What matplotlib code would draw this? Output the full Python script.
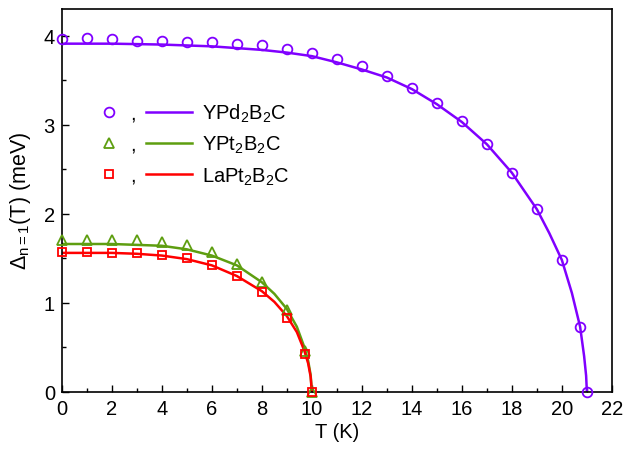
import matplotlib
matplotlib.use("Agg")
from matplotlib import pyplot as plt
from matplotlib.lines import Line2D

plt.rcParams["font.family"] = ["Liberation Sans", "DejaVu Sans"]
plt.rcParams["mathtext.fontset"] = "custom"
plt.rcParams["mathtext.rm"] = "Liberation Sans"
plt.rcParams["mathtext.it"] = "Liberation Sans:italic"
plt.rcParams["mathtext.bf"] = "Liberation Sans:bold"

# measured gap values (symbols)
t_pd = [0, 1, 2, 3, 4, 5, 6, 7, 8, 9, 10, 11, 12, 13, 14, 15, 16, 17, 18, 19, 20, 20.73, 21]
d_pd = [3.96, 3.97, 3.96, 3.94, 3.94, 3.93, 3.93, 3.91, 3.89, 3.85, 3.81, 3.74, 3.66,
        3.55, 3.41, 3.24, 3.04, 2.78, 2.46, 2.05, 1.48, 0.73, 0.0]

t_pt = [0, 1, 2, 3, 4, 5, 6, 7, 8, 9, 9.73, 10]
d_ypt = [1.70, 1.71, 1.71, 1.70, 1.68, 1.65, 1.57, 1.43, 1.23, 0.92, 0.46, 0.0]
d_lapt = [1.57, 1.57, 1.56, 1.56, 1.54, 1.50, 1.42, 1.30, 1.12, 0.83, 0.42, 0.0]

# fit curves (lines)
tf_pd = [0, 2, 4, 6, 8, 9, 10, 11, 12, 13, 14, 15, 16, 17, 18, 19, 19.5, 20,
         20.4, 20.73, 20.89, 20.97, 21]
df_pd = [3.91, 3.91, 3.90, 3.88, 3.84, 3.81, 3.77, 3.70, 3.62, 3.53, 3.40, 3.23,
         3.03, 2.78, 2.46, 2.05, 1.78, 1.48, 1.11, 0.73, 0.40, 0.18, 0.0]

tf_pt = [0, 1, 2, 3, 4, 5, 6, 7, 8, 8.5, 9, 9.4, 9.7, 9.85, 9.95, 10]
df_ypt = [1.66, 1.66, 1.66, 1.65, 1.64, 1.60, 1.53, 1.42, 1.23, 1.10, 0.93, 0.73,
          0.50, 0.35, 0.19, 0.0]
df_lapt = [1.56, 1.56, 1.56, 1.55, 1.53, 1.49, 1.42, 1.30, 1.13, 1.01, 0.85, 0.67,
           0.46, 0.32, 0.17, 0.0]

labels = ["YPd$_2$B$_2$C", "YPt$_2$B$_2$C", "LaPt$_2$B$_2$C"]
colors = ["#8000ff", "#5e9e10", "#ff0000"]
markers = ["o", "^", "s"]
msizes = [7, 7.5, 5.8]
fs = 14.5

fig = plt.figure(figsize=(6.25, 4.52), dpi=100)
ax = fig.add_axes([0.099, 0.131, 0.88, 0.847])

ax.plot(tf_pd, df_pd, color=colors[0], lw=1.8)
ax.plot(tf_pt, df_ypt, color=colors[1], lw=1.8)
ax.plot(tf_pt, df_lapt, color=colors[2], lw=1.8)

for t, d, m, c, s in zip([t_pd, t_pt, t_pt], [d_pd, d_ypt, d_lapt], markers, colors, msizes):
    ax.plot(t, d, ls="none", marker=m, color=c, mfc="none", ms=s, mew=1.3,
            clip_on=False, zorder=5)

ax.set_xlim(0, 22)
ax.set_ylim(0, 4.3)
ax.set_xticks(range(0, 23, 2))
ax.set_xticks(range(1, 22, 2), minor=True)
ax.set_yticks([0, 1, 2, 3, 4])
ax.set_yticks([0.5, 1.5, 2.5, 3.5], minor=True)
ax.tick_params(which="both", direction="in", labelsize=fs, top=False, right=False)
ax.tick_params(which="major", length=5, width=1, pad=5)
ax.tick_params(which="minor", length=3, width=1)
for s in ax.spines.values():
    s.set_linewidth(1.2)

ax.set_xlabel("T (K)", fontsize=fs, labelpad=3)
ax.set_ylabel(r"$\mathrm{\Delta_{n=1}}$(T) (meV)", fontsize=15.5, labelpad=8)

# legend: symbol , line  label
mhandles = [Line2D([], [], ls="none", marker=m, color=c, mfc="none", ms=s, mew=1.3)
            for m, c, s in zip(markers, colors, msizes)]
lhandles = [Line2D([], [], color=c, lw=1.8) for c in colors]
leg1 = ax.legend(mhandles, [",", ",", ","], loc="upper left", bbox_to_anchor=(0.035, 0.80),
                 frameon=False, fontsize=fs, handlelength=1.0, handletextpad=0.55,
                 labelspacing=0.6)
ax.add_artist(leg1)
ax.legend(lhandles, labels, loc="upper left", bbox_to_anchor=(0.12, 0.805),
          frameon=False, fontsize=fs, handlelength=2.3, handletextpad=0.5,
          labelspacing=0.5)

fig.savefig("out.png", dpi=100)
